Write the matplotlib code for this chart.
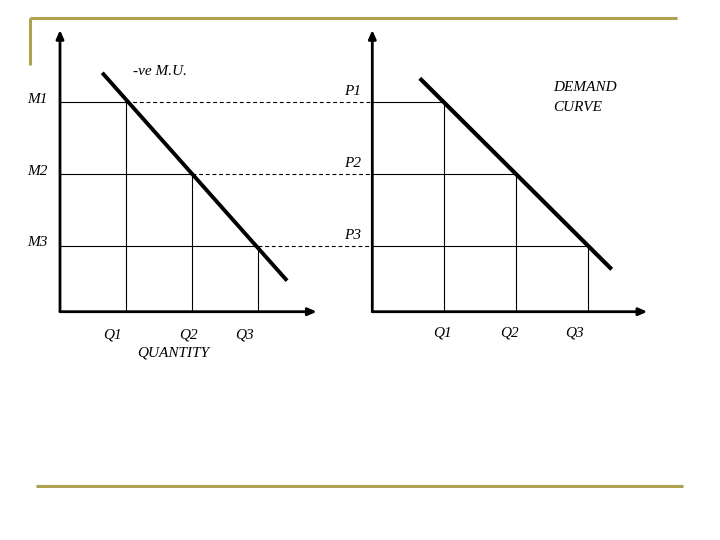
import matplotlib
matplotlib.use("Agg")
import matplotlib.pyplot as plt
from matplotlib.lines import Line2D

# ---- data ----
quantity = [1, 2, 3]                      # Q1, Q2, Q3 positions
utility_levels = [3.17, 2.08, 1.0]        # M1, M2, M3 (same heights as P1..P3)
price_levels = [3.17, 2.08, 1.0]          # P1, P2, P3
mu_curve_x = [0.64, 3.44]
mu_curve_y = [3.62, 0.47]
demand_curve_x = [0.66, 3.325]
demand_curve_y = [3.536, 0.642]
m_labels = ["M1", "M2", "M3"]
p_labels = ["P1", "P2", "P3"]
q_labels = ["Q1", "Q2", "Q3"]
q_label_pos_left = [0.80, 1.94, 2.80]
q_label_pos_right = [0.98, 1.90, 2.81]

FONT = dict(family="Liberation Serif", style="italic", fontsize=11, color="black")
W, H = 720, 540
fig = plt.figure(figsize=(7.2, 5.4), dpi=100)

def axes_px(x0, y0, w, h):
    return fig.add_axes([x0 / W, 1 - (y0 + h) / H, w / W, h / H])

# left panel: origin at (60, 311.7) px, x unit 66 px, y unit 66 px
axL = axes_px(60, 30, 256.7, 281.7)
axL.set_xlim(0, 256.7 / 66)
axL.set_ylim(0, 281.7 / 66)
# right panel: origin at (372.3, 311.7) px, x unit 72 px, y unit 66 px
axR = axes_px(372.3, 30, 275, 281.7)
axR.set_xlim(0, 275 / 72)
axR.set_ylim(0, 281.7 / 66)

for ax in (axL, axR):
    ax.axis("off")
    xm = ax.get_xlim()[1]
    ym = ax.get_ylim()[1]
    arrow = dict(arrowstyle="-|>,head_length=0.5,head_width=0.22", lw=2.0,
                 color="black", shrinkA=0, shrinkB=0)
    ax.annotate("", xy=(xm, 0), xytext=(0, 0), arrowprops=arrow, annotation_clip=False)
    ax.annotate("", xy=(0, ym), xytext=(0, 0), arrowprops=arrow, annotation_clip=False)

# right axis x position in left-axes data units
right_axis_in_left = (372.3 - 60) / 66

# left panel guides
for q, m in zip(quantity, utility_levels):
    axL.plot([0, q], [m, m], color="black", lw=0.8, solid_capstyle="butt")
    axL.plot([q, q], [0, m], color="black", lw=0.8, solid_capstyle="butt")
    axL.plot([q, right_axis_in_left], [m, m], color="black", lw=0.8,
             ls=(0, (3.5, 2.5)), clip_on=False)
axL.plot(mu_curve_x, mu_curve_y, color="black", lw=2.8, solid_capstyle="butt")

# right panel guides
for q, p in zip(quantity, price_levels):
    axR.plot([0, q], [p, p], color="black", lw=0.8, solid_capstyle="butt")
    axR.plot([q, q], [0, p], color="black", lw=0.8, solid_capstyle="butt")
axR.plot(demand_curve_x, demand_curve_y, color="black", lw=3.0, solid_capstyle="butt")

# labels
for lab, m in zip(m_labels, utility_levels):
    axL.text(-0.35, m + 0.05, lab, ha="center", va="center", clip_on=False, **FONT)
for lab, p in zip(p_labels, price_levels):
    axR.text(-0.28, p + 0.16, lab, ha="center", va="center", clip_on=False, **FONT)
for lab, x in zip(q_labels, q_label_pos_left):
    axL.text(x, -0.35, lab, ha="center", va="center", clip_on=False, **FONT)
for lab, x in zip(q_labels, q_label_pos_right):
    axR.text(x, -0.32, lab, ha="center", va="center", clip_on=False, **FONT)
axL.text(1.71, -0.63, "QUANTITY", ha="center", va="center", clip_on=False, **FONT)
axL.text(1.52, 3.64, "-ve M.U.", ha="center", va="center", clip_on=False, **FONT)
axR.text(2.51, 3.39, "DEMAND", ha="left", va="center", clip_on=False, **FONT)
axR.text(2.51, 3.09, "CURVE", ha="left", va="center", clip_on=False, **FONT)

# gold slide frame
gold = "#ADA152"
def fline(xs, ys):
    fig.add_artist(Line2D([x / W for x in xs], [1 - y / H for y in ys],
                          color=gold, lw=2.2, solid_capstyle="butt"))
fline([30, 677], [18, 18])
fline([30, 30], [18, 65])
fline([36, 683], [485.7, 485.7])

fig.savefig("out.png", dpi=100, facecolor="white")
